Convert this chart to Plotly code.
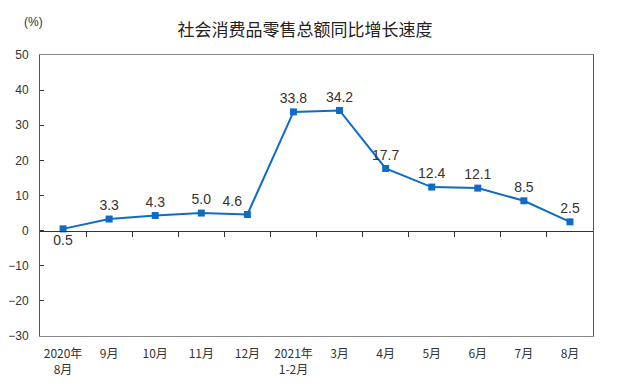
import plotly.graph_objects as go

categories = ["2020年<br>8月", "9月", "10月", "11月", "12月", "2021年<br>1-2月",
              "3月", "4月", "5月", "6月", "7月", "8月"]
values = [0.5, 3.3, 4.3, 5.0, 4.6, 33.8, 34.2, 17.7, 12.4, 12.1, 8.5, 2.5]
label_pos = ["bottom center", "top center", "top center", "top center", "top left"] + ["top center"] * 7
y_ticks = [-30, -20, -10, 0, 10, 20, 30, 40, 50]

xs = list(range(len(categories)))
font_fam = "Liberation Sans, Noto Sans CJK SC, sans-serif"

# page has an 8px body margin; compensate
W, H = 609, 375
L, R, T, B = 32, 24, 47, 47
w_plot = W - L - R
h_plot = H - T - B

fig = go.Figure()
fig.add_trace(go.Scatter(
    x=xs, y=values, mode="lines+markers+text",
    line=dict(color="#0F6BC6", width=2),
    marker=dict(symbol="square", size=7, color="#0F6BC6"),
    text=[f"{v:.1f}" for v in values], textposition=label_pos,
    textfont=dict(size=14, color="#333333", family=font_fam),
    cliponaxis=False, showlegend=False,
))
fig.add_trace(go.Scatter(x=[0], y=[0], xaxis="x2", mode="markers",
                         marker=dict(opacity=0), showlegend=False, hoverinfo="skip"))

fig.update_layout(
    width=W, height=H,
    margin=dict(l=L, r=R, t=T, b=B, autoexpand=False),
    plot_bgcolor="white", paper_bgcolor="white",
    font=dict(family=font_fam, color="#333333", size=12),
    title=dict(text="社会消费品零售总额同比增长速度",
               x=(305 - 8) / W, xanchor="center",
               y=1 - (30 - 8) / H, yanchor="middle",
               font=dict(size=17, color="#222222",
                         family="Noto Sans CJK SC, sans-serif")),
    xaxis=dict(range=[-0.5, 11.5], tickvals=xs, ticktext=categories,
               showgrid=False, zeroline=False, showline=True, mirror=True,
               linecolor="#888888", linewidth=1, ticks="", ticklabelstandoff=7,
               tickfont=dict(size=12, family="Noto Sans CJK SC, sans-serif", color="#333333")),
    xaxis2=dict(range=[-0.5, 11.5], overlaying="x", anchor="free", position=0.375,
                tickvals=[i + 0.5 for i in xs[:-1]], showticklabels=False,
                ticks="outside", ticklen=5, tickcolor="#333333",
                showline=True, linecolor="#333333", linewidth=1,
                showgrid=False, zeroline=False),
    yaxis=dict(range=[-30, 50], tickvals=y_ticks, showgrid=False, zeroline=False,
               showline=True, mirror=True, linecolor="#555555", linewidth=1,
               ticks="inside", ticklen=4, tickcolor="#333333",
               tickfont=dict(size=12, color="#333333"), ticklabelstandoff=8),
    annotations=[dict(text="(%)", xref="paper", yref="paper",
                      x=(33 - 8 - L) / w_plot, y=1 + (T - (22 - 8)) / h_plot,
                      xanchor="center", yanchor="middle",
                      showarrow=False, font=dict(size=12, color="#333333"))],
)

fig.write_html("out.html")
